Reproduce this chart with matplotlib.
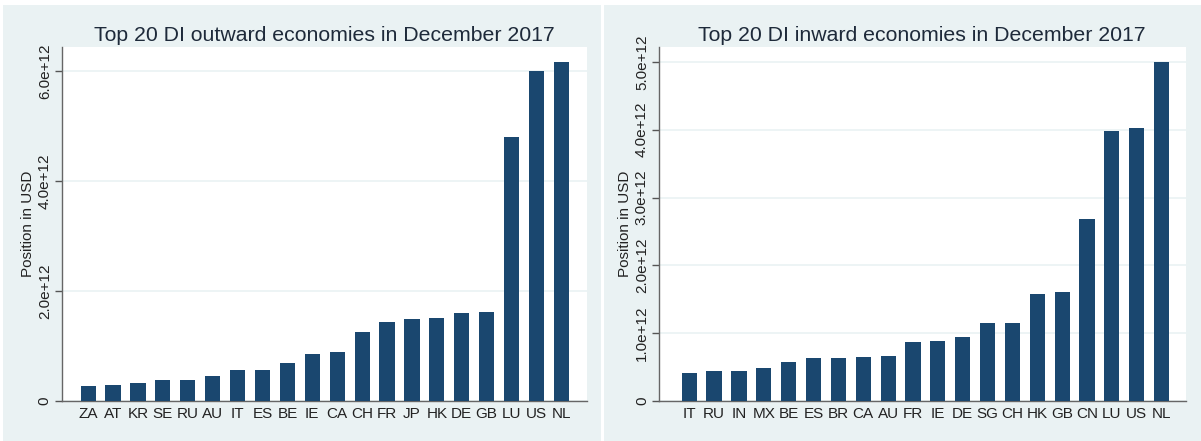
import matplotlib
matplotlib.use("Agg")
import matplotlib.pyplot as plt
from matplotlib.patches import Rectangle

# ---- data (USD, values in units of 1e12) ----
out_codes = ["ZA", "AT", "KR", "SE", "RU", "AU", "IT", "ES", "BE", "IE",
             "CA", "CH", "FR", "JP", "HK", "DE", "GB", "LU", "US", "NL"]
out_vals = [0.273, 0.286, 0.335, 0.377, 0.377, 0.462, 0.559, 0.571, 0.686, 0.856,
            0.887, 1.257, 1.446, 1.488, 1.519, 1.603, 1.621, 4.809, 6.005, 6.169]

in_codes = ["IT", "RU", "IN", "MX", "BE", "ES", "BR", "CA", "AU", "FR",
            "IE", "DE", "SG", "CH", "HK", "GB", "CN", "LU", "US", "NL"]
in_vals = [0.414, 0.439, 0.439, 0.488, 0.582, 0.631, 0.631, 0.650, 0.660, 0.872,
           0.892, 0.946, 1.148, 1.152, 1.581, 1.601, 2.684, 3.984, 4.023, 5.003]

out_ticks = [0, 2e12, 4e12, 6e12]
out_ticklabels = ["0", "2.0e+12", "4.0e+12", "6.0e+12"]
in_ticks = [0, 1e12, 2e12, 3e12, 4e12, 5e12]
in_ticklabels = ["0", "1.0e+12", "2.0e+12", "3.0e+12", "4.0e+12", "5.0e+12"]

titles = ["Top 20 DI outward economies in December 2017",
          "Top 20 DI inward economies in December 2017"]
ylabel = "Position in USD"

BG = "#eaf2f3"
BAR = "#1a476f"
TXT = "#222222"

plt.rcParams["font.family"] = ["Liberation Sans", "DejaVu Sans"]

W, H = 1201, 441
fig = plt.figure(figsize=(W / 100, H / 100), dpi=100)
fig.patch.set_facecolor("white")

def fx(px):
    return px / W

def fy(py):
    return 1 - py / H

# graph region backgrounds
for x0, x1 in [(3, 601), (604, 1201)]:
    fig.patches.append(Rectangle((fx(x0), 0), fx(x1 - x0), fy(5), transform=fig.transFigure,
                                 facecolor=BG, edgecolor="none", zorder=-10))

panels = [
    (out_codes, out_vals, out_ticks, out_ticklabels, titles[0], (61.5, 587), 6.44e12, (-1.07, 20.03)),
    (in_codes, in_vals, in_ticks, in_ticklabels, titles[1], (658.6, 1186), 5.22e12, (-1.23, 19.98)),
]

for codes, vals, ticks, tlabels, title, (xl, xr), ytop, xlim in panels:
    ax = fig.add_axes([fx(xl), fy(401), fx(xr - xl), fy(47) - fy(401)])
    ax.set_facecolor("white")
    vals_usd = [v * 1e12 for v in vals]
    ax.bar(range(len(codes)), vals_usd, width=0.61, color=BAR, zorder=3)
    ax.set_xlim(*xlim)
    ax.set_ylim(0, ytop)
    ax.set_xticks(range(len(codes)))
    ax.set_xticklabels(codes, fontsize=11, color=TXT)
    ax.tick_params(axis="x", length=0, pad=4)
    ax.set_yticks(ticks)
    ax.set_yticklabels(tlabels, rotation=90, va="center", fontsize=11, color=TXT)
    ax.tick_params(axis="y", length=5, width=1, color="#555555", pad=2)
    ax.yaxis.grid(True, color=BG, linewidth=1.2, zorder=0)
    ax.set_axisbelow(True)
    for s in ["top", "right"]:
        ax.spines[s].set_visible(False)
    for s in ["left", "bottom"]:
        ax.spines[s].set_color("#666666")
        ax.spines[s].set_linewidth(1)
    ax.set_ylabel(ylabel, fontsize=11, color=TXT, labelpad=2)
    ax.set_title(title, fontsize=15.3, color="#1e2a3a", pad=4)

fig.savefig("out.png", dpi=100, facecolor=fig.get_facecolor())
